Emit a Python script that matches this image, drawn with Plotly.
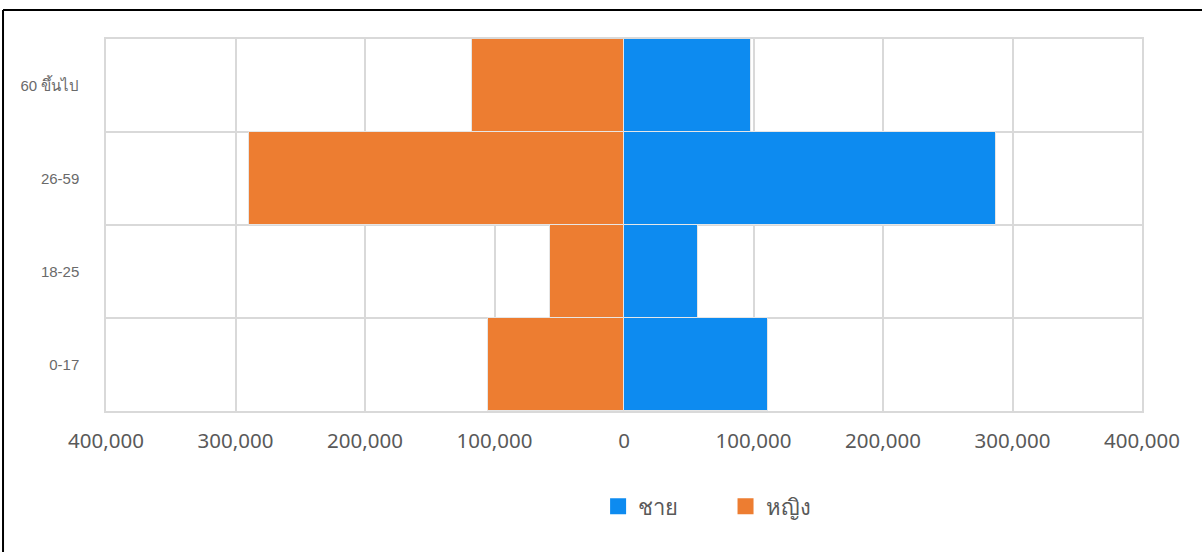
import plotly.graph_objects as go

categories = ["0-17", "18-25", "26-59", "60 ขึ้นไป"]
male = [111400, 56900, 287300, 97800]
female = [105300, 56900, 289600, 117100]
tick_values = [-400000, -300000, -200000, -100000, 0, 100000, 200000, 300000, 400000]
tick_labels = ["400,000", "300,000", "200,000", "100,000", "0", "100,000", "200,000", "300,000", "400,000"]
series_names = ["ชาย", "หญิง"]

BLUE = "#0d8bf0"
ORANGE = "#ed7d31"
GRID = "#d9d9d9"
TXT = "#595959"

fig = go.Figure()
fig.add_trace(go.Bar(y=categories, x=male, orientation="h", name=series_names[0],
                     marker=dict(color=BLUE, line=dict(color="#e6e6e6", width=1)),
                     showlegend=False, hovertemplate="%{y}: %{x:,}<extra>ชาย</extra>"))
fig.add_trace(go.Bar(y=categories, x=[-v for v in female], orientation="h", name=series_names[1],
                     marker=dict(color=ORANGE, line=dict(color="#e6e6e6", width=1)),
                     customdata=female, showlegend=False,
                     hovertemplate="%{y}: %{customdata:,}<extra>หญิง</extra>"))
# legend proxies, one legend each so they can be placed apart
legend_ids = ["legend", "legend2"]
for nm, col, lg in zip(series_names, [BLUE, ORANGE], legend_ids):
    fig.add_trace(go.Scatter(x=[None], y=[None], mode="markers", name=nm, legend=lg,
                             marker=dict(symbol="square", size=23, color=col)))

leg_common = dict(orientation="h", y=-0.2, yanchor="top", bgcolor="rgba(0,0,0,0)",
                  font=dict(size=22, color=TXT), itemwidth=30)
frame = dict(type="line", xref="paper", yref="paper", line=dict(color="black", width=2), layer="above")
fig.update_layout(
    width=1202, height=552,
    margin=dict(l=106, r=60, t=39, b=141),
    paper_bgcolor="white", plot_bgcolor="white",
    barmode="relative", bargap=0,
    font=dict(family="Noto Sans, Liberation Sans, sans-serif", color=TXT),
    legend=dict(x=0.475, xanchor="left", **leg_common),
    legend2=dict(x=0.598, xanchor="left", **leg_common),
    shapes=[dict(x0=-0.0994, x1=1.06, y0=1.078, y1=1.078, **frame),
            dict(x0=-0.0994, x1=-0.0994, y0=1.078, y1=-0.4, **frame)],
)
fig.update_xaxes(range=[-400000, 400000], tickvals=tick_values, ticktext=tick_labels,
                 showgrid=True, gridcolor=GRID, gridwidth=1.5, zeroline=False,
                 showline=True, linecolor=GRID, linewidth=1.5, mirror=True,
                 tickfont=dict(size=20.5, color=TXT, family="Noto Sans, sans-serif"),
                 ticklabelstandoff=11, fixedrange=True)
fig.update_yaxes(type="category", categoryorder="array", categoryarray=categories,
                 tickson="boundaries", ticks="", showgrid=True, gridcolor=GRID, gridwidth=1.5,
                 showline=True, linecolor=GRID, linewidth=1.5, mirror=True,
                 tickfont=dict(size=15, color="#6a6a6a", family="Liberation Sans, Noto Sans, sans-serif"),
                 ticklabelstandoff=22, fixedrange=True)

fig.write_html("out.html", config={"displayModeBar": False},
               post_script="document.body.style.margin='0';")
